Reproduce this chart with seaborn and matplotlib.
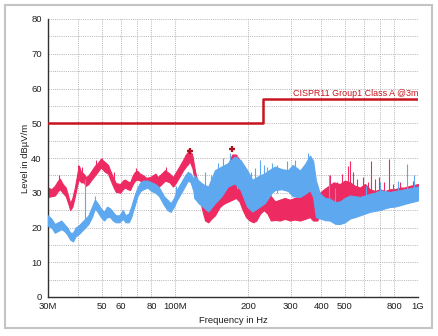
import matplotlib
matplotlib.use("Agg")
import matplotlib.pyplot as plt
import matplotlib.patches as mpatches
import seaborn as sns
import numpy as np
import pandas as pd

# ---------------- data ----------------
# limit line CISPR11 Group1 Class A @3m
limit_freq = [30, 230, 1000]          # MHz
limit_level = [50, 57, 57]            # dBuV/m

# red/pink trace envelope (MHz, low dB, high dB)
pink_freq = [30, 31, 32, 33, 33.6, 34.5, 35.5, 36.5, 37, 37.8, 38.7, 39.5, 40.2, 41, 42, 43, 44, 45,
             46.8, 48, 49.5, 51.5, 53, 54, 55.5, 57, 59.4, 61, 62.2, 64, 65.3, 67, 68.4, 70, 71.7, 74,
             76, 78.9, 81, 83, 85, 88, 91, 95, 98, 100, 104, 108, 112, 115, 118, 121, 124, 127, 130,
             133, 137, 141, 146, 153, 160, 166, 172, 178, 184, 190, 196, 203, 210, 216, 224, 232, 240,
             248, 258, 270, 283, 297, 310, 327, 343, 359, 370, 385, 395, 410, 430, 450, 477, 500, 525,
             550, 577, 605, 634, 665, 697, 730, 767, 800, 843, 880, 927, 1000]
pink_lo = [28.8, 29.0, 29.2, 30.5, 31.0, 30.0, 29.0, 26.5, 25.0, 26.0, 29.0, 32.0, 34.0, 33.0, 33.0, 32.0,
           32.5, 33.5, 35.0, 36.0, 37.3, 36.0, 35.5, 34.0, 32.0, 30.3, 30.0, 31.0, 31.5, 31.0, 30.8, 32.5,
           33.5, 33.8, 33.5, 33.0, 32.3, 32.0, 32.5, 32.0, 31.5, 32.5, 33.5, 33.0, 31.8, 32.5, 34.5, 36.5,
           38.0, 39.0, 37.0, 33.0, 30.0, 27.5, 24.5, 22.0, 21.5, 22.5, 23.5, 26.0, 27.0, 27.5, 28.0, 28.5,
           27.5, 25.0, 23.0, 22.0, 21.5, 22.0, 24.0, 25.0, 24.0, 22.0, 22.2, 22.0, 22.5, 22.0, 22.3, 22.0,
           22.5, 23.0, 22.0, 22.0, 24.0, 25.5, 25.0, 25.5, 26.0, 26.0, 26.5, 26.0, 26.0, 26.5, 26.5, 26.5,
           27.0, 27.0, 27.5, 27.5, 28.0, 28.0, 28.5, 29.0]
pink_hi = [31.5, 31.0, 32.0, 33.5, 34.0, 32.5, 31.5, 28.5, 27.0, 28.5, 31.5, 35.0, 37.8, 36.0, 35.5, 34.5,
           35.0, 36.0, 37.8, 38.5, 39.8, 38.8, 38.0, 36.5, 34.5, 32.8, 32.5, 33.5, 33.8, 33.2, 33.0, 35.0,
           36.0, 36.3, 35.5, 35.0, 34.3, 34.5, 35.0, 35.5, 34.5, 35.5, 36.5, 35.5, 34.5, 35.5, 37.5, 39.5,
           41.5, 42.0, 40.5, 36.0, 33.0, 31.0, 28.0, 27.0, 26.5, 27.0, 28.5, 30.0, 35.0, 38.5, 41.0, 41.0,
           39.5, 37.0, 33.0, 30.0, 29.0, 30.0, 31.0, 32.0, 31.5, 29.0, 27.5, 28.0, 28.5, 28.0, 28.5, 29.0,
           30.0, 31.0, 29.0, 28.0, 30.0, 31.0, 32.0, 33.0, 32.5, 33.5, 33.0, 32.0, 31.5, 32.5, 31.0, 30.5,
           31.0, 30.5, 31.0, 31.0, 31.5, 31.5, 32.0, 32.5]

# blue trace envelope
blue_freq = [30, 31, 32, 33, 34, 35, 36, 37, 38, 39, 40, 42, 44, 45.5, 46.8, 48, 49.5, 51, 52.5, 54, 55.5,
             57, 59, 61, 62.5, 64.5, 66, 68, 70, 72, 74, 77, 80, 83, 86, 90, 93, 96, 99, 102, 106, 110,
             113, 116, 119, 120, 125, 130, 137, 146, 155, 165, 176, 186, 198, 208, 218, 234, 250, 258,
             275, 292, 305, 327, 343, 359, 370, 380, 395, 415, 434, 455, 477, 500, 525, 550, 577, 605,
             634, 665, 697, 730, 767, 800, 843, 880, 927, 1000]
blue_lo = [20.5, 20.0, 18.5, 19.0, 19.5, 19.0, 18.0, 16.5, 16.0, 17.5, 18.0, 19.5, 21.0, 23.0, 25.5, 24.5,
           23.0, 22.0, 23.0, 23.0, 22.0, 21.5, 21.5, 22.5, 21.5, 21.5, 23.0, 26.0, 29.0, 30.5, 31.0, 31.5,
           30.5, 30.0, 29.0, 26.5, 25.0, 24.5, 26.0, 28.0, 30.0, 32.0, 33.5, 33.0, 30.5, 28.5, 27.0, 26.0,
           24.6, 27.0, 28.9, 31.8, 32.7, 30.8, 26.0, 24.6, 25.5, 27.0, 30.0, 30.8, 31.0, 30.5, 29.0, 28.8,
           29.7, 30.7, 28.8, 23.0, 22.6, 22.1, 22.0, 21.1, 21.0, 21.5, 22.6, 23.0, 23.5, 24.0, 24.5, 24.8,
           25.0, 25.5, 25.9, 26.0, 26.4, 26.8, 27.2, 27.8]
blue_hi = [23.5, 22.5, 21.0, 21.5, 22.0, 21.0, 20.0, 18.5, 18.5, 20.0, 20.5, 22.0, 23.5, 26.0, 28.0, 27.0,
           25.5, 24.5, 26.0, 25.5, 24.5, 23.5, 23.5, 25.0, 23.5, 24.0, 26.0, 29.0, 31.5, 33.0, 33.5, 33.5,
           33.0, 32.5, 31.5, 29.0, 28.0, 27.0, 28.5, 31.0, 33.0, 35.0, 36.0, 35.5, 34.0, 35.0, 33.5, 32.5,
           31.8, 36.5, 37.5, 38.5, 40.4, 39.4, 36.5, 33.7, 34.6, 35.6, 37.0, 37.5, 36.8, 36.5, 38.0, 36.4,
           38.3, 40.7, 39.2, 33.5, 29.7, 28.5, 28.3, 27.3, 27.5, 28.5, 29.2, 29.0, 28.8, 29.2, 29.7, 30.0,
           30.7, 30.5, 30.2, 30.5, 30.7, 31.0, 31.3, 31.8]

# narrow spikes (MHz, bottom dB, top dB)
pink_spike_freq = [33.2, 39.8, 41.5, 47.5, 50.2, 56, 69, 92, 110, 113, 117,
                   434, 465, 488, 515, 525, 540, 560, 595, 620, 640, 665, 690, 725, 760, 790, 843, 950]
pink_spike_lo = [31, 33, 34, 36, 37, 33, 34, 34, 37, 38, 38,
                 27, 27, 27, 28, 28, 28, 27, 27, 27, 27, 27, 27, 28, 28, 28, 28, 29]
pink_spike_hi = [35, 38, 37.5, 39.5, 40, 36, 37, 37.5, 41, 42.5, 41.5,
                 35, 33, 35.5, 37.8, 39.2, 36, 34, 34.5, 33, 39.2, 34, 34.5, 33, 39.7, 32.5, 33, 33.5]
blue_spike_freq = [42.5, 47, 101, 133, 140, 150, 158, 168, 180, 205, 214, 224, 232, 240, 250, 262,
                   290, 312, 352, 430, 455, 610, 700, 830, 900, 960]
blue_spike_lo = [22, 25, 28, 28, 27, 29, 31, 32, 31, 26, 27, 30, 30, 30, 31, 30,
                 31, 31, 31, 26, 25, 26, 27, 28, 28, 29]
blue_spike_hi = [34, 29, 32, 36, 35, 38.5, 40, 41.5, 41, 36, 37, 39.4, 38, 37.5, 38.5, 38,
                 39, 39.5, 41.5, 35, 31.5, 32, 33, 33.5, 38.3, 35]

# peak markers
peak_freq = [115, 172]
peak_level = [42.0, 42.6]

x_ticks = [30, 40, 50, 60, 70, 80, 100, 200, 300, 400, 500, 600, 700, 800, 1000]
x_ticklabels = ["30M", "", "50", "60", "", "80", "100M", "200", "300", "400", "500", "", "", "800", "1G"]
y_ticks = list(range(0, 81, 10))

limit_label = "CISPR11 Group1 Class A @3m"
x_label = "Frequency in Hz"
y_label = "Level in dBµV/m"

# ---------------- styling ----------------
sns.set_style("white")
plt.rcParams['font.family'] = ['Liberation Sans', 'DejaVu Sans']

PINK = "#ee2a62"
BLUE = "#5ea8ef"
LIMIT = "#c8141e"

fig = plt.figure(figsize=(4.39, 3.36), dpi=100)
ax = fig.add_axes([48 / 439, 39 / 336, 370 / 439, 278 / 336])

pink = pd.DataFrame({"f": pink_freq, "lo": pink_lo, "hi": pink_hi})
blue = pd.DataFrame({"f": blue_freq, "lo": blue_lo, "hi": blue_hi})

ax.fill_between(pink["f"], pink["lo"], pink["hi"], color=PINK, lw=0.8, edgecolor=PINK, zorder=2)
ax.vlines(pink_spike_freq, pink_spike_lo, pink_spike_hi, color=PINK, lw=0.8, zorder=2)
ax.fill_between(blue["f"], blue["lo"], blue["hi"], color=BLUE, lw=0.8, edgecolor=BLUE, zorder=3)
ax.vlines(blue_spike_freq, blue_spike_lo, blue_spike_hi, color=BLUE, lw=0.8, zorder=3)

lim = pd.DataFrame({"f": limit_freq, "level": limit_level})
sns.lineplot(data=lim, x="f", y="level", ax=ax, color=LIMIT, lw=1.8,
             drawstyle="steps-post", zorder=4)

ax.plot(peak_freq, peak_level, linestyle="none", marker="+", color="#b01020",
        ms=5, mew=1.6, zorder=5)

ax.set_xscale("log")
ax.set_xlim(30, 1000)
ax.set_ylim(0, 80)
ax.set_xticks(x_ticks)
ax.set_xticklabels(x_ticklabels)
ax.xaxis.set_minor_locator(matplotlib.ticker.NullLocator())
ax.set_yticks(y_ticks)
ax.set_yticks(list(range(5, 80, 10)), minor=True)

ax.grid(True, which="both", axis="y", color="#aaaaaa", lw=0.6, ls=(0, (1.2, 1.4)))
ax.grid(True, which="major", axis="x", color="#aaaaaa", lw=0.6, ls=(0, (1.2, 1.4)))
ax.set_axisbelow(True)

for s in ["top", "right"]:
    ax.spines[s].set_visible(False)
for s in ["left", "bottom"]:
    ax.spines[s].set_color("#303030")
    ax.spines[s].set_linewidth(1.0)

ax.tick_params(axis="both", which="both", direction="inout", length=5, width=1.0,
               color="#303030", labelsize=6.8, labelcolor="#202020", pad=2)
ax.tick_params(axis="x", pad=1)

ax.set_xlabel(x_label, fontsize=6.8, color="#202020", labelpad=4)
ax.set_ylabel(y_label, fontsize=6.8, color="#202020", labelpad=1)

ax.text(1000, 57.4, limit_label, color=LIMIT, fontsize=6.4, ha="right", va="bottom", zorder=6)

# outer frame
frame = mpatches.Rectangle((5 / 439, 8 / 336), 427 / 439, 323 / 336, transform=fig.transFigure,
                           fill=False, edgecolor="#c4c4c4", lw=1.5)
fig.patches.append(frame)

fig.savefig("out.png", dpi=100)
